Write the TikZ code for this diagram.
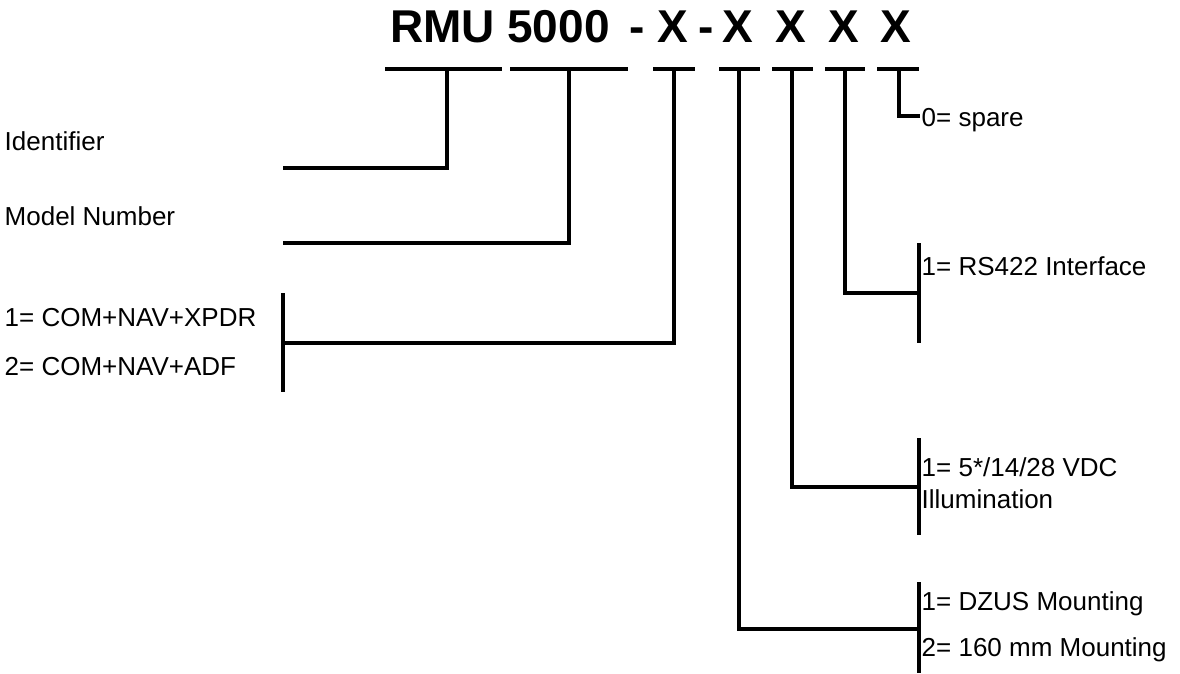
\documentclass[tikz,border=0pt]{standalone}
\usepackage{fontspec}
\setmainfont{Liberation Sans}
\begin{document}
\begin{tikzpicture}[x=1pt,y=-1pt,
  conn/.style={line width=4pt,line cap=butt,line join=miter},
  title/.style={inner sep=0pt,anchor=base,font=\fontsize{46}{55}\selectfont\bfseries},
  lbl/.style={inner sep=0pt,anchor=base west,font=\fontsize{26}{31}\selectfont}]
\useasboundingbox (0,0) rectangle (1180,673);
% title
\node[title] (tRMU) at (442.5,42) {RMU};
\node[title] (t5000) at (558.5,42) {5000};
\node[title] (tdash1) at (637,42) {-};
\node[title] (tX1) at (672.5,42) {X};
\node[title] (tdash2) at (706.5,42) {-};
\node[title] (tX2) at (738,42) {X};
\node[title] (tX3) at (791,42) {X};
\node[title] (tX4) at (843.5,42) {X};
\node[title] (tX5) at (896,42) {X};
% bars under title
\coordinate (b1) at (447,69);
\coordinate (b2) at (569,69);
\coordinate (b3) at (674,69);
\coordinate (b4) at (739,69);
\coordinate (b5) at (792,69);
\coordinate (b6) at (845,69);
\coordinate (b7) at (899,69);
\draw[conn] (385,69) -- (502,69);
\draw[conn] (510,69) -- (628,69);
\draw[conn] (653,69) -- (695,69);
\draw[conn] (719,69) -- (760,69);
\draw[conn] (772,69) -- (813,69);
\draw[conn] (825,69) -- (865,69);
\draw[conn] (877,69) -- (919,69);
% labels
\node[lbl] (ident) at (4.5,150) {Identifier};
\node[lbl] (model) at (4.5,225) {Model Number};
\node[lbl] (com1) at (4.5,326) {1= COM+NAV+XPDR};
\node[lbl] (com2) at (4.5,375) {2= COM+NAV+ADF};
\node[lbl] (spare) at (921.5,126) {0= spare};
\node[lbl] (rs) at (921.5,275) {1= RS422 Interface};
\node[lbl] (vdc) at (921.5,476) {1= 5*/14/28 VDC};
\node[lbl] (illum) at (921.5,508) {Illumination};
\node[lbl] (dzus) at (921.5,610) {1= DZUS Mounting};
\node[lbl] (mm) at (921.5,656) {2= 160 mm Mounting};
% end points
\coordinate (eIdent) at (283,168);
\coordinate (eModel) at (283,243);
\coordinate (eCom) at (283,343);
\coordinate (eSpare) at (920,116);
\coordinate (eRs) at (919,293);
\coordinate (eVdc) at (919,487);
\coordinate (eDzus) at (919,629);
% connectors
\draw[conn] (b1) |- (eIdent);
\draw[conn] (b2) |- (eModel);
\draw[conn] (b3) |- (eCom);
\draw[conn] (283,293) -- (283,392);
\draw[conn] (b7) |- (eSpare);
\draw[conn] (b6) |- (eRs);
\draw[conn] (919,243) -- (919,343);
\draw[conn] (b5) |- (eVdc);
\draw[conn] (919,438) -- (919,535);
\draw[conn] (b4) |- (eDzus);
\draw[conn] (919,582) -- (919,673);
\end{tikzpicture}
\end{document}
